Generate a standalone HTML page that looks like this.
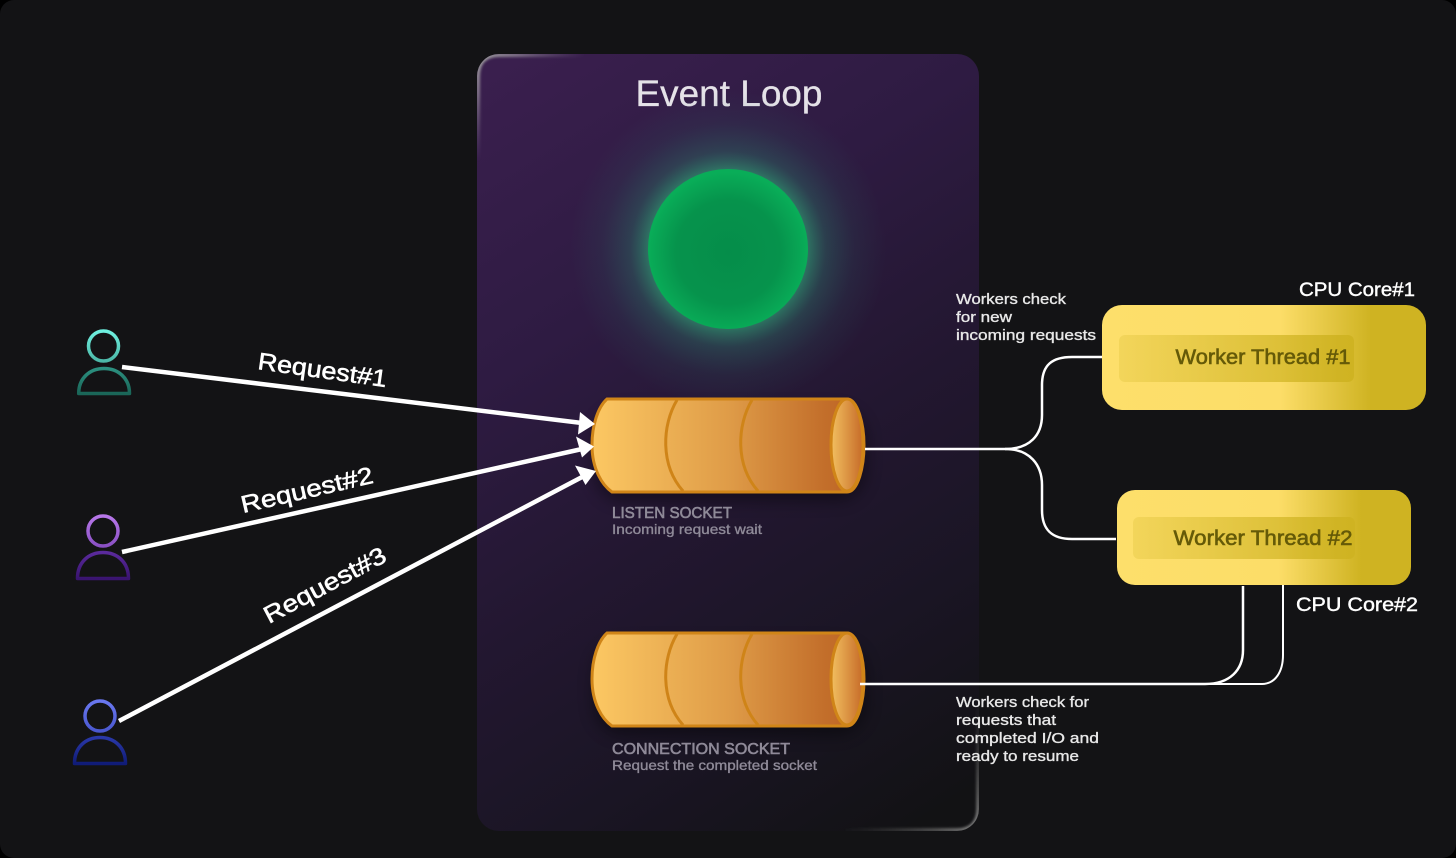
<!DOCTYPE html>
<html><head><meta charset="utf-8"><style>
html,body{margin:0;padding:0;background:#000;width:1456px;height:858px;overflow:hidden}
svg{display:block}
text{font-family:"Liberation Sans",sans-serif}
</style></head><body>
<svg width="1456" height="858" viewBox="0 0 1456 858" xmlns="http://www.w3.org/2000/svg">
<defs>
<linearGradient id="panel" gradientUnits="userSpaceOnUse" x1="490" y1="70" x2="960" y2="800">
<stop offset="0" stop-color="#3a1f4e"/><stop offset="0.3" stop-color="#2e1b42"/><stop offset="0.55" stop-color="#231731"/><stop offset="0.78" stop-color="#1a1524"/><stop offset="1" stop-color="#121214"/>
</linearGradient>
<radialGradient id="hlTL" gradientUnits="userSpaceOnUse" cx="480" cy="57" r="105"><stop offset="0" stop-color="#a0a0a0"/><stop offset="0.35" stop-color="#8a8090" stop-opacity="0.85"/><stop offset="1" stop-color="#6a5a78" stop-opacity="0"/></radialGradient>
<radialGradient id="hlBR" gradientUnits="userSpaceOnUse" cx="976" cy="828" r="135"><stop offset="0" stop-color="#8a8a8a"/><stop offset="0.3" stop-color="#666" stop-opacity="0.8"/><stop offset="1" stop-color="#444" stop-opacity="0"/></radialGradient>
<radialGradient id="glow"><stop offset="0.5" stop-color="#2f9a72" stop-opacity="0.7"/><stop offset="0.62" stop-color="#2c7a68" stop-opacity="0.38"/><stop offset="0.8" stop-color="#2a6a62" stop-opacity="0.14"/><stop offset="1" stop-color="#2a6a62" stop-opacity="0"/></radialGradient>
<radialGradient id="ball" cx="0.5" cy="0.52" r="0.5"><stop offset="0" stop-color="#058d4a"/><stop offset="0.65" stop-color="#06934c"/><stop offset="1" stop-color="#09ad58"/></radialGradient>
<linearGradient id="cyl" x1="0" y1="0" x2="1" y2="0"><stop offset="0" stop-color="#fcc863"/><stop offset="0.5" stop-color="#df9c48"/><stop offset="0.85" stop-color="#c36f2b"/><stop offset="1" stop-color="#bd6124"/></linearGradient>
<linearGradient id="cap" x1="0" y1="0" x2="1" y2="0"><stop offset="0" stop-color="#f2c060"/><stop offset="1" stop-color="#c66a28"/></linearGradient>
<linearGradient id="card" x1="0" y1="0" x2="1" y2="0"><stop offset="0" stop-color="#fddf6b"/><stop offset="0.55" stop-color="#fcdd68"/><stop offset="0.83" stop-color="#cfb322"/><stop offset="1" stop-color="#cfb322"/></linearGradient>
<linearGradient id="inner" x1="0" y1="0" x2="1" y2="0"><stop offset="0" stop-color="#cfb322" stop-opacity="0.22"/><stop offset="0.55" stop-color="#cfb322" stop-opacity="0.6"/><stop offset="0.85" stop-color="#cfb322" stop-opacity="0.8"/><stop offset="1" stop-color="#cfb322" stop-opacity="1"/></linearGradient>
<linearGradient id="u1" x1="0" y1="0" x2="0" y2="1"><stop offset="0" stop-color="#6ff0e0"/><stop offset="1" stop-color="#4cb8a8"/></linearGradient>
<linearGradient id="t1" x1="0" y1="0" x2="0" y2="1"><stop offset="0" stop-color="#2c9080"/><stop offset="1" stop-color="#1a6658"/></linearGradient>
<linearGradient id="u2" x1="0" y1="0" x2="0" y2="1"><stop offset="0" stop-color="#b878ea"/><stop offset="1" stop-color="#8a50c4"/></linearGradient>
<linearGradient id="t2" x1="0" y1="0" x2="0" y2="1"><stop offset="0" stop-color="#5a2a9c"/><stop offset="1" stop-color="#3a1470"/></linearGradient>
<linearGradient id="u3" x1="0" y1="0" x2="0" y2="1"><stop offset="0" stop-color="#6a78f0"/><stop offset="1" stop-color="#4a58d0"/></linearGradient>
<linearGradient id="t3" x1="0" y1="0" x2="0" y2="1"><stop offset="0" stop-color="#2a38a8"/><stop offset="1" stop-color="#101c78"/></linearGradient>
<filter id="b" x="-20%" y="-40%" width="140%" height="180%"><feGaussianBlur stdDeviation="8"/></filter>
<filter id="b2" x="-10%" y="-10%" width="120%" height="120%"><feGaussianBlur stdDeviation="1.2"/></filter>
<clipPath id="pc"><rect x="477" y="54" width="502" height="777" rx="22"/></clipPath>
<g id="cylinder">
<rect x="4" y="12" width="272" height="92" rx="30" fill="#000" opacity="0.4" filter="url(#b)"/>
<path d="M17 2 H257 C268 2 274 28 274 48 C274 70 268 95 257 95 H22 C12 88 2 72 2 48 C2 28 8 10 17 2Z" fill="url(#cyl)" stroke="#d08518" stroke-width="3"/>
<path d="M87 3 C72 28 70 68 93 94 M162 3 C147 28 145 68 168 94" fill="none" stroke="#cf8418" stroke-width="3"/>
<ellipse cx="257" cy="48" rx="16" ry="46" fill="url(#cap)" stroke="#d08518" stroke-width="3"/>
</g>
</defs>
<rect x="0" y="0" width="1456" height="858" rx="14" fill="#131315"/>
<rect x="477" y="54" width="502" height="777" rx="22" fill="url(#panel)"/>
<g clip-path="url(#pc)" fill="none" filter="url(#b2)">
<path d="M478 170 V76 Q478 55 499 55 H600" stroke="url(#hlTL)" stroke-width="4"/>
<path d="M978 680 V809 Q978 830 957 830 H830" stroke="url(#hlBR)" stroke-width="3.500"/>
</g>
<text x="729" y="106" text-anchor="middle" font-size="37" fill="#e5e2e8" stroke="#e5e2e8" stroke-width="0.3" textLength="187" lengthAdjust="spacingAndGlyphs">Event Loop</text>
<circle cx="728" cy="249" r="158" fill="url(#glow)"/>
<circle cx="728" cy="249" r="80" fill="url(#ball)"/>
<use href="#cylinder" x="590" y="397"/>
<use href="#cylinder" x="590" y="631"/>
<g fill="#8f8a98" stroke="#8f8a98">
<text x="612" y="518" font-size="15.5" stroke-width="0.6" textLength="120" lengthAdjust="spacingAndGlyphs">LISTEN SOCKET</text>
<text x="612" y="534" font-size="14" stroke-width="0.35" textLength="150" lengthAdjust="spacingAndGlyphs">Incoming request wait</text>
<text x="612" y="754" font-size="15.5" stroke-width="0.6" textLength="178" lengthAdjust="spacingAndGlyphs">CONNECTION SOCKET</text>
<text x="612" y="770" font-size="14" stroke-width="0.35" textLength="205" lengthAdjust="spacingAndGlyphs">Request the completed socket</text>
</g>
<!-- users -->
<g fill="none" stroke-width="3.500" stroke-linejoin="round">
<circle cx="103.500" cy="346" r="15" stroke="url(#u1)"/>
<path d="M78.700 393.500 C78.700 378 90 368.500 104 368.500 C118 368.500 129.500 378 129.500 393.500Z" stroke="url(#t1)"/>
<circle cx="103" cy="531" r="15" stroke="url(#u2)"/>
<path d="M77.500 578.500 C77.500 562 89 552.500 103 552.500 C117 552.500 128.500 562 128.500 578.500Z" stroke="url(#t2)"/>
<circle cx="100" cy="716" r="15" stroke="url(#u3)"/>
<path d="M74.500 763.500 C74.500 747 86 737.500 100 737.500 C114 737.500 125.500 747 125.500 763.500Z" stroke="url(#t3)"/>
</g>
<!-- arrows -->
<g stroke="#fff" stroke-width="4.500" fill="none">
<path d="M122 367 L582 423"/>
<path d="M122 552 L582 449"/>
<path d="M119 721 L584 476"/>
</g>
<g fill="#fff">
<path d="M595 424 L578 434.500 L580 412Z"/>
<path d="M594 446.500 L582 457.500 L576 436.500Z"/>
<path d="M596 471 L585.500 485 L575 465.500Z"/>
</g>
<g font-size="24" fill="#fff" stroke="#fff" stroke-width="0.55">
<text x="257" y="369" textLength="130" lengthAdjust="spacingAndGlyphs" transform="rotate(8 257 369)">Request#1</text>
<text x="243" y="513" textLength="135" lengthAdjust="spacingAndGlyphs" transform="rotate(-13 243 513)">Request#2</text>
<text x="269" y="624" textLength="135" lengthAdjust="spacingAndGlyphs" transform="rotate(-28 269 624)">Request#3</text>
</g>
<!-- connectors -->
<g stroke="#fff" stroke-width="2.500" fill="none">
<path d="M865 449 H1005 C1030 449 1042 435 1042 415 V385 C1042 365 1052 357 1072 357 H1102"/>
<path d="M1005 449 C1030 449 1042 465 1042 485 V510 C1042 530 1052 539 1072 539 H1116"/>
<path d="M860 684 H1205 C1230 684 1243 670 1243 650 V586"/>
<path d="M1205 684 H1262 C1275 684 1283 672 1283 655 V585" stroke-width="2"/>
</g>
<rect x="1102" y="305" width="324" height="105" rx="20" fill="url(#card)"/>
<rect x="1119" y="335" width="235" height="47" rx="6" fill="url(#inner)"/>
<text x="1263" y="364" text-anchor="middle" font-size="21" fill="#655a08" stroke="#655a08" stroke-width="0.6" textLength="175" lengthAdjust="spacingAndGlyphs">Worker Thread #1</text>
<rect x="1117" y="490" width="294" height="95" rx="18" fill="url(#card)"/>
<rect x="1133" y="517" width="222" height="42" rx="6" fill="url(#inner)"/>
<text x="1263" y="545" text-anchor="middle" font-size="21" fill="#655a08" stroke="#655a08" stroke-width="0.6" textLength="179" lengthAdjust="spacingAndGlyphs">Worker Thread #2</text>
<g font-size="19" fill="#fff" stroke="#fff" stroke-width="0.4">
<text x="1299" y="296" textLength="116" lengthAdjust="spacingAndGlyphs">CPU Core#1</text>
<text x="1296" y="611" textLength="122" lengthAdjust="spacingAndGlyphs">CPU Core#2</text>
</g>
<g font-size="15" fill="#e8e8e8" stroke="#e8e8e8" stroke-width="0.35">
<text x="956" y="304" textLength="110" lengthAdjust="spacingAndGlyphs">Workers check</text>
<text x="956" y="322" textLength="56" lengthAdjust="spacingAndGlyphs">for new</text>
<text x="956" y="340" textLength="140" lengthAdjust="spacingAndGlyphs">incoming requests</text>
<text x="956" y="707" textLength="133" lengthAdjust="spacingAndGlyphs">Workers check for</text>
<text x="956" y="725" textLength="100" lengthAdjust="spacingAndGlyphs">requests that</text>
<text x="956" y="743" textLength="143" lengthAdjust="spacingAndGlyphs">completed I/O and</text>
<text x="956" y="761" textLength="123" lengthAdjust="spacingAndGlyphs">ready to resume</text>
</g>
</svg>
</body></html>
